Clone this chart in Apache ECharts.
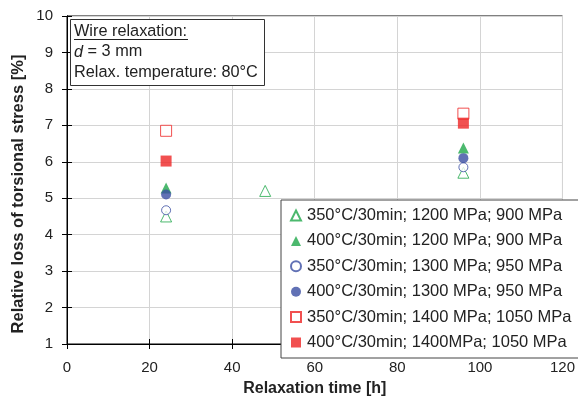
<!DOCTYPE html>
<html>
<head>
<meta charset="utf-8">
<script src="https://cdn.jsdelivr.net/npm/echarts@6/dist/echarts.min.js"></script>
<style>
  html, body { margin: 0; padding: 0; background: #fff; }
  #chart { width: 578px; height: 407px; }
</style>
</head>
<body>
<div id="chart"></div>
<script>
// 数据 (relaxation time [h], loss [%])
const seriesNames = [
  '350°C/30min; 1200 MPa; 900 MPa',
  '400°C/30min; 1200 MPa; 900 MPa',
  '350°C/30min; 1300 MPa; 950 MPa',
  '400°C/30min; 1300 MPa; 950 MPa',
  '350°C/30min; 1400 MPa; 1050 MPa',
  '400°C/30min; 1400MPa; 1050 MPa'
]
const open350_1200 = [[24, 4.5], [48, 5.2], [96, 5.7]]
const fill400_1200 = [[24, 5.28], [96, 6.38]]
const open350_1300 = [[24, 4.67], [96, 5.85]]
const fill400_1300 = [[24, 5.1], [96, 6.1]]
const open350_1400 = [[24, 6.85], [96, 7.32]]
const fill400_1400 = [[24, 6.02], [96, 7.06]]

const green = '#1fa84a'
const blue = '#3a4ea3'
const red = '#ee2424'
const font = 'Liberation Sans, Arial, sans-serif'

const chart = echarts.init(document.getElementById('chart'))

//配置散点
const mk = (name, data, symbol, color, filled, size) => ({
  name: name,
  type: 'scatter',
  data: data,
  symbol: symbol,
  symbolSize: size,
  itemStyle: filled
    ? { color: color }
    : { color: '#fff', borderColor: color, borderWidth: 1 }
})

const yTickAxis = (inside) => ({
  type: 'value', min: 1, max: 10, interval: 1, position: 'left',
  axisLine: { show: true, lineStyle: { color: '#000', width: 1 } },
  axisTick: { show: true, inside: inside, length: 5, lineStyle: { color: '#000' } },
  splitLine: { show: !inside, lineStyle: { color: '#d4d4d4' } },
  axisLabel: { show: !inside, color: '#222', fontSize: 15, fontFamily: font, margin: 14 }
})
const xTickAxis = (inside) => ({
  type: 'value', min: 0, max: 120, interval: 20, position: 'bottom',
  axisLine: { show: true, lineStyle: { color: '#000', width: 1 } },
  axisTick: { show: true, inside: inside, length: 5, lineStyle: { color: '#000' } },
  splitLine: { show: !inside, lineStyle: { color: '#d4d4d4' } },
  axisLabel: { show: !inside, color: '#222', fontSize: 15, fontFamily: font, margin: 16 }
})

const xMain = xTickAxis(false)
xMain.name = 'Relaxation time [h]'
xMain.nameLocation = 'middle'
xMain.nameGap = 37
xMain.nameTextStyle = { color: '#222', fontSize: 16, fontWeight: 'bold', fontFamily: font }

chart.setOption({
  animation: false,
  backgroundColor: '#fff',
  grid: { left: 67, right: 13, top: 16, bottom: 63, show: true, borderColor: '#000', borderWidth: 1 },
  xAxis: [xMain, xTickAxis(true)],
  yAxis: [yTickAxis(false), yTickAxis(true)],
  legend: {
    orient: 'vertical',
    left: 281, top: 200,
    padding: [7, 10, 7, 9],
    itemGap: 8.4,
    itemWidth: 10, itemHeight: 10,
    backgroundColor: '#fff',
    borderColor: '#444', borderWidth: 1,
    textStyle: { color: '#222', fontSize: 16.5, fontFamily: font, padding: [0, 0, 0, 1] },
    data: seriesNames
  },
  graphic: [
    // y轴标题
    { type: 'text', x: 18, y: 194, rotation: Math.PI / 2, z: 100,
      style: { text: 'Relative loss of torsional stress [%]', fill: '#222',
        font: 'bold 16.5px ' + font, textAlign: 'center', textVerticalAlign: 'middle' } },
    // 说明框
    { type: 'rect', left: 70, top: 19, z: 100, shape: { width: 194, height: 66 },
      style: { fill: '#fff', stroke: '#333', lineWidth: 1 } },
    { type: 'text', left: 74, top: 24, z: 101,
      style: { text: 'Wire relaxation:', fill: '#222', font: '16.3px ' + font } },
    { type: 'line', z: 101, shape: { x1: 74, y1: 39.5, x2: 188, y2: 39.5 }, style: { stroke: '#222', lineWidth: 1 } },
    { type: 'text', left: 74, top: 44, z: 101,
      style: { text: 'd', fill: '#222', font: 'italic 16.3px ' + font } },
    { type: 'text', left: 83, top: 44, z: 101,
      style: { text: ' = 3 mm', fill: '#222', font: '16.3px ' + font } },
    { type: 'text', left: 74, top: 65, z: 101,
      style: { text: 'Relax. temperature: 80°C', fill: '#222', font: '16.3px ' + font } }
  ],
  series: [
    mk(seriesNames[0], open350_1200, 'triangle', green, false, 11),
    mk(seriesNames[1], fill400_1200, 'triangle', green, true, 11),
    mk(seriesNames[2], open350_1300, 'circle', blue, false, 9),
    mk(seriesNames[3], fill400_1300, 'circle', blue, true, 10),
    mk(seriesNames[4], open350_1400, 'rect', red, false, 11),
    mk(seriesNames[5], fill400_1400, 'rect', red, true, 11)
  ]
})
</script>
</body>
</html>
